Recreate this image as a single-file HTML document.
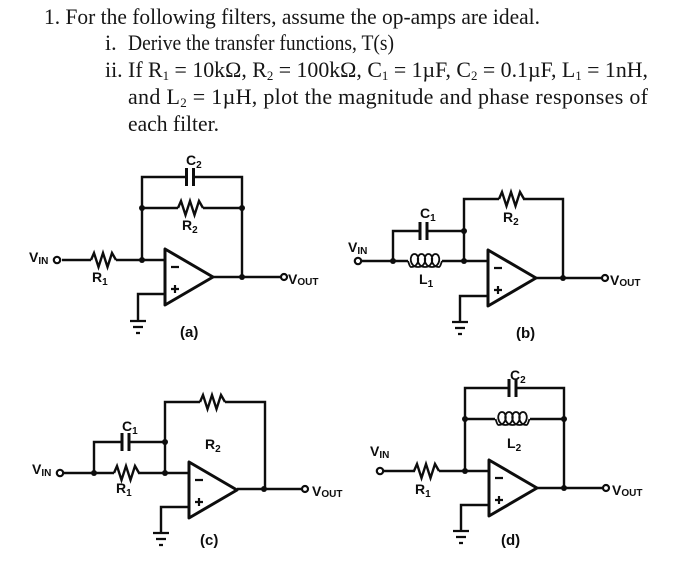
<!DOCTYPE html>
<html><head><meta charset="utf-8"><style>
html,body{margin:0;padding:0;background:#fff;width:700px;height:566px;overflow:hidden}
svg{display:block}
.t{font-family:"Liberation Serif",serif;font-size:22px;fill:#141414}
.l{font-family:"Liberation Sans",sans-serif;font-weight:bold;font-size:14px;fill:#111}
.p{font-size:15px}
.w{fill:none;stroke:#111;stroke-width:2.400;stroke-linejoin:miter}
.c{fill:none;stroke:#111;stroke-width:1.800}
.s{font-size:10px}
</style></head><body>
<svg width="700" height="566" viewBox="0 0 700 566" xmlns="http://www.w3.org/2000/svg">
<defs>
<filter id="b" x="-2%" y="-2%" width="104%" height="104%"><feGaussianBlur stdDeviation="0.35"/></filter>
<g id="res"><path class="w" d="M0,0 L3,-7 L7.500,7 L12,-7 L16.500,7 L21,-7 L25,0"/></g>
<g id="ind"><path class="c" d="M0,0 C1,3 2,6 3,6 c9,0 9,-13 3.500,-13 c-5.500,0 -5.500,13 3.500,13 c9,0 9,-13 3.500,-13 c-5.500,0 -5.500,13 3.500,13 c9,0 9,-13 3.500,-13 c-5.500,0 -5.500,13 3.500,13 c9,0 9,-13 3.500,-13 c-5.500,0 -5.500,13 3.500,13 c1,0 2,-3 3,-6"/></g>
<g id="cap"><path d="M0,-9 V9 M7,-9 V9" fill="none" stroke="#111" stroke-width="3"/></g>
<g id="amp"><path d="M0,0 V56 L48,28 Z" fill="#fff" stroke="#111" stroke-width="3" stroke-linejoin="round"/><path d="M6,18 H14 M6,40 H14 M10,36 V44" stroke="#111" stroke-width="2.200" fill="none"/></g>
<g id="gnd"><path d="M-8,0 H8 M-5,6 H5 M-2,12 H2" stroke="#111" stroke-width="2.200" fill="none"/></g>
</defs>
<g filter="url(#b)">
<text class="t" x="44" y="24" textLength="496" lengthAdjust="spacingAndGlyphs">1. For the following filters, assume the op-amps are ideal.</text>
<text class="t" x="105" y="50">i.</text>
<text class="t" x="128" y="50" textLength="266" lengthAdjust="spacingAndGlyphs">Derive the transfer functions, T(s)</text>
<text class="t" x="105" y="77" textLength="543" lengthAdjust="spacingAndGlyphs">ii. If R<tspan font-size="13" dy="3">1</tspan><tspan dy="-3"> = 10kΩ, R</tspan><tspan font-size="13" dy="3">2</tspan><tspan dy="-3"> = 100kΩ, C</tspan><tspan font-size="13" dy="3">1</tspan><tspan dy="-3"> = 1µF, C</tspan><tspan font-size="13" dy="3">2</tspan><tspan dy="-3"> = 0.1µF, L</tspan><tspan font-size="13" dy="3">1</tspan><tspan dy="-3"> = 1nH,</tspan></text>
<text class="t" x="128" y="104" textLength="520">and L<tspan font-size="13" dy="3">2</tspan><tspan dy="-3"> = 1µH, plot the magnitude and phase responses of</tspan></text>
<text class="t" x="128" y="131" textLength="91" lengthAdjust="spacingAndGlyphs">each filter.</text>

<!-- (a) -->
<path class="w" d="M62,260 H91 M116,260 H165 M142,260 V177 H186 M194,177 H242 V277 M142,208 H178 M203,208 H242 M213,277 H281 M165,294 H138 V321"/>
<use href="#res" x="91" y="260"/><use href="#res" x="178" y="208"/><use href="#cap" x="186.500" y="177"/>
<use href="#amp" x="165" y="249"/><use href="#gnd" x="138" y="321"/>
<circle cx="57" cy="260" r="3.200" fill="#fff" stroke="#111" stroke-width="2.200"/>
<circle cx="284" cy="277" r="3" fill="#fff" stroke="#111" stroke-width="2.200"/>
<g fill="#111"><circle cx="142" cy="260" r="3"/><circle cx="142" cy="208" r="3"/><circle cx="242" cy="208" r="3"/><circle cx="242" cy="277" r="3"/></g>
<text class="l" x="186" y="165">C<tspan class="s" dy="3">2</tspan></text>
<text class="l" x="182" y="230">R<tspan class="s" dy="3">2</tspan></text>
<text class="l" x="92" y="282">R<tspan class="s" dy="3">1</tspan></text>
<text class="l" x="29" y="262">V<tspan class="s" dy="2">IN</tspan></text>
<text class="l" x="288" y="284">V<tspan class="s" dy="1">OUT</tspan></text>
<text class="l p" x="180" y="337">(a)</text>

<!-- (b) -->
<path class="w" d="M362,261 H408 M442,261 H488 M464,261 V199 H499 M523,199 H563 V278 M393,261 V231 H420 M427,231 H464 M535,278 H602 M488,296 H460 V322"/>
<use href="#res" x="499" y="199"/><use href="#ind" x="408" y="261"/><use href="#cap" x="420" y="231"/>
<use href="#amp" x="488" y="250"/><use href="#gnd" x="460" y="322"/>
<circle cx="358" cy="261" r="3.200" fill="#fff" stroke="#111" stroke-width="2.200"/>
<circle cx="605" cy="278" r="3" fill="#fff" stroke="#111" stroke-width="2.200"/>
<g fill="#111"><circle cx="393" cy="261" r="3"/><circle cx="464" cy="261" r="3"/><circle cx="464" cy="231" r="3"/><circle cx="563" cy="278" r="3"/></g>
<text class="l" x="420" y="218">C<tspan class="s" dy="3">1</tspan></text>
<text class="l" x="503" y="222">R<tspan class="s" dy="3">2</tspan></text>
<text class="l" x="419" y="284">L<tspan class="s" dy="3">1</tspan></text>
<text class="l" x="348" y="252">V<tspan class="s" dy="2">IN</tspan></text>
<text class="l" x="610" y="285">V<tspan class="s" dy="1">OUT</tspan></text>
<text class="l p" x="516" y="338">(b)</text>

<!-- (c) -->
<path class="w" d="M64,473 H114 M138,473 H189 M165,473 V402 H200 M225,402 H265 V489 M94,473 V442 H122 M129,442 H165 M237,489 H303 M189,507 H161 V533"/>
<use href="#res" x="114" y="473"/><use href="#res" x="200" y="402"/><use href="#cap" x="122" y="442"/>
<use href="#amp" x="189" y="462"/><use href="#gnd" x="161" y="533"/>
<circle cx="60" cy="473" r="3.200" fill="#fff" stroke="#111" stroke-width="2.200"/>
<circle cx="305" cy="489" r="3" fill="#fff" stroke="#111" stroke-width="2.200"/>
<g fill="#111"><circle cx="94" cy="473" r="3"/><circle cx="165" cy="473" r="3"/><circle cx="165" cy="442" r="3"/><circle cx="264" cy="489" r="3"/></g>
<text class="l" x="122" y="431">C<tspan class="s" dy="3">1</tspan></text>
<text class="l" x="205" y="449">R<tspan class="s" dy="3">2</tspan></text>
<text class="l" x="116" y="493">R<tspan class="s" dy="3">1</tspan></text>
<text class="l" x="32" y="474">V<tspan class="s" dy="2">IN</tspan></text>
<text class="l" x="312" y="496">V<tspan class="s" dy="1">OUT</tspan></text>
<text class="l p" x="200" y="545">(c)</text>

<!-- (d) -->
<path class="w" d="M384,471 H415 M439,471 H489 M465,471 V388 H509 M516,388 H564 V488 M465,419 H495 M530,419 H564 M536,488 H603 M489,505 H461 V531"/>
<use href="#res" x="414" y="471"/><use href="#ind" x="495.500" y="419"/><use href="#cap" x="509" y="388"/>
<use href="#amp" x="489" y="460"/><use href="#gnd" x="461" y="531"/>
<circle cx="380" cy="471" r="3.200" fill="#fff" stroke="#111" stroke-width="2.200"/>
<circle cx="606" cy="488" r="3" fill="#fff" stroke="#111" stroke-width="2.200"/>
<g fill="#111"><circle cx="465" cy="471" r="3"/><circle cx="465" cy="419" r="3"/><circle cx="564" cy="419" r="3"/><circle cx="564" cy="488" r="3"/></g>
<text class="l" x="510" y="380">C<tspan class="s" dy="3">2</tspan></text>
<text class="l" x="507" y="448">L<tspan class="s" dy="3">2</tspan></text>
<text class="l" x="415" y="494">R<tspan class="s" dy="3">1</tspan></text>
<text class="l" x="370" y="456">V<tspan class="s" dy="2">IN</tspan></text>
<text class="l" x="612" y="495">V<tspan class="s" dy="1">OUT</tspan></text>
<text class="l p" x="501" y="545">(d)</text>
</g>
</svg>
</body></html>
